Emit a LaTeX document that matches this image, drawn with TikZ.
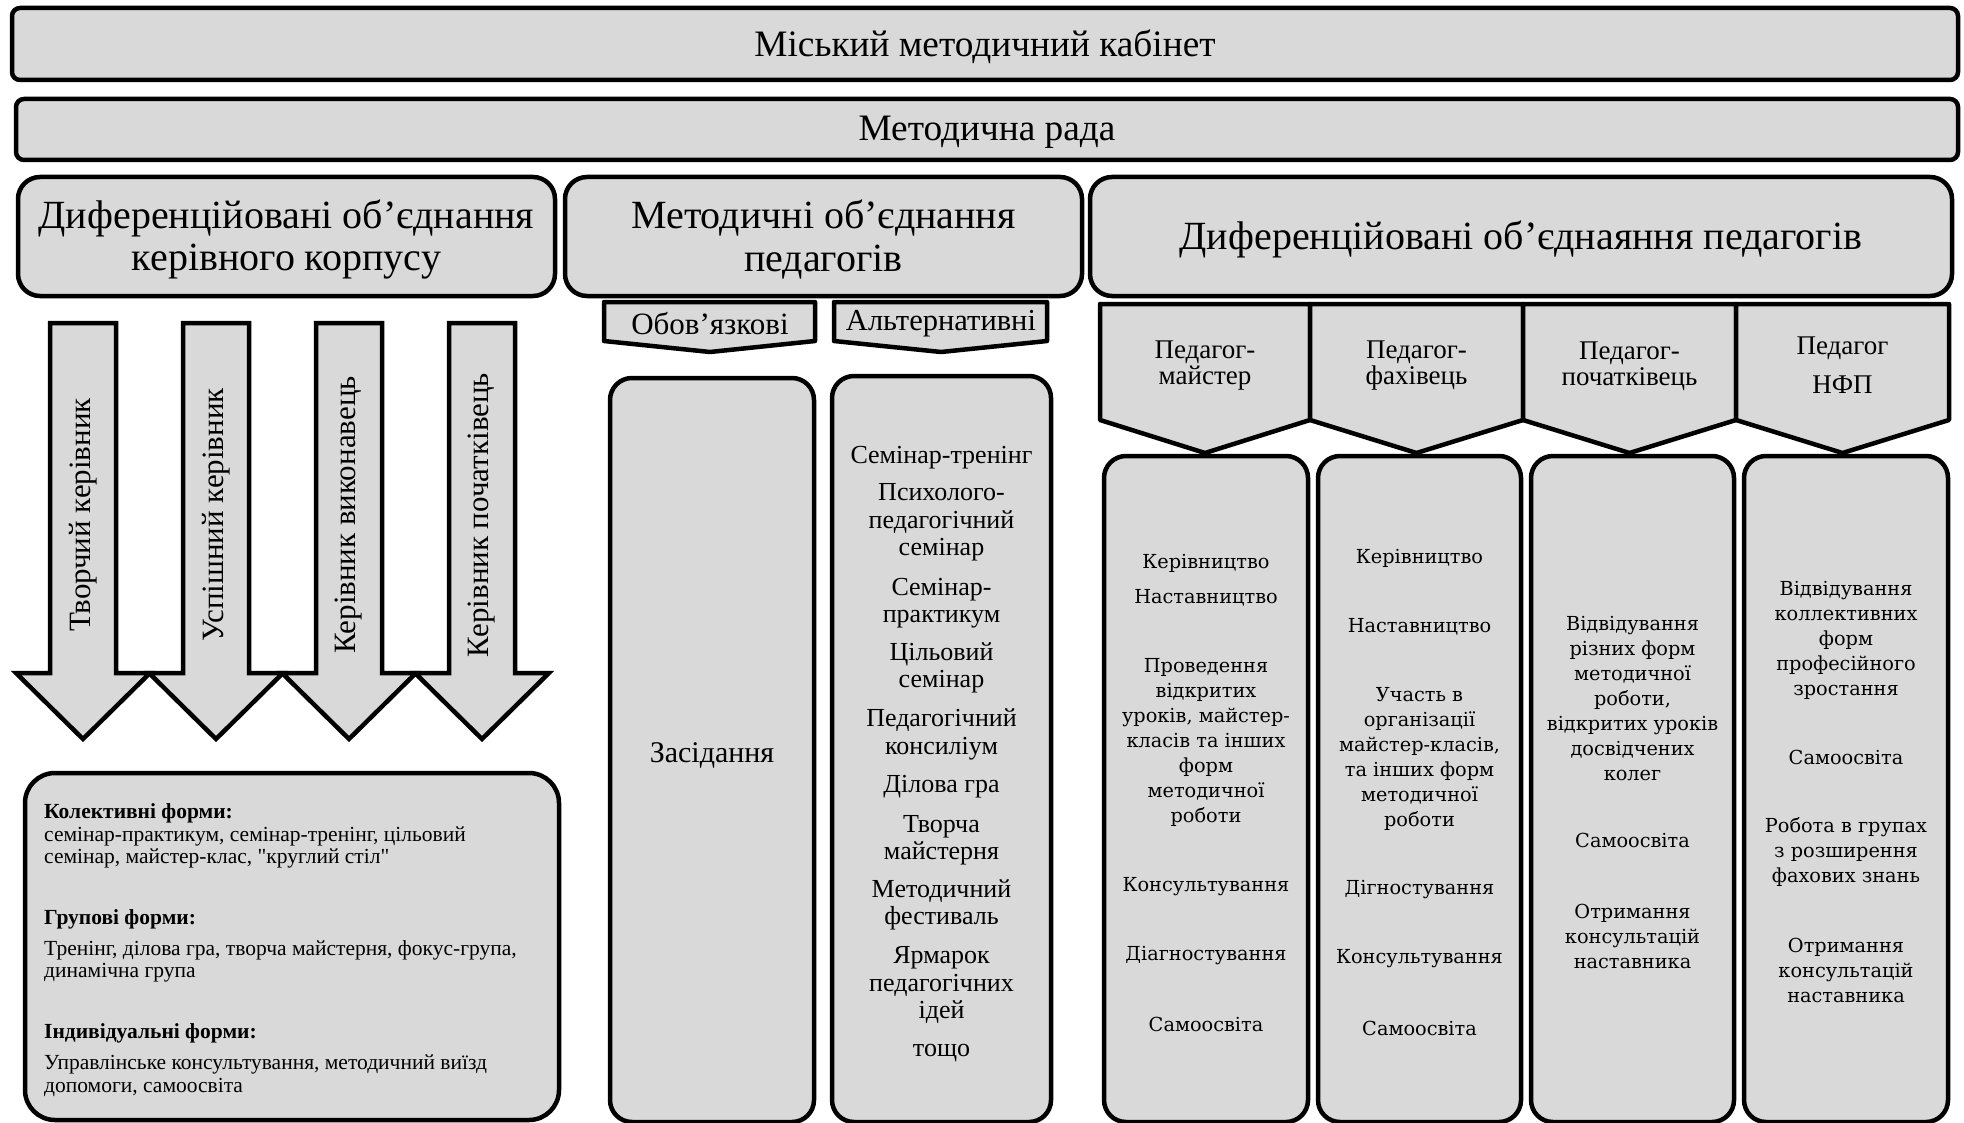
\documentclass[tikz,border=0pt]{standalone}
\usepackage{fontspec}
\setmainfont{Liberation Serif}
\newfontfamily\rawserif{Liberation Serif}
\newfontfamily\wideserif{DejaVu Serif}
\definecolor{boxgray}{HTML}{D9D9D9}
\newcommand{\setfs}[2]{\fontsize{#1}{#2}\selectfont}
\begin{document}
\begin{tikzpicture}[x=1pt,y=-1pt,
  bigbox/.style={draw=black,line width=4.5pt,fill=boxgray,rounded corners=22pt,inner sep=0pt},
  flatbox/.style={draw=black,line width=4.5pt,fill=boxgray,rounded corners=8pt,inner sep=0pt},
  shapest/.style={draw=black,line width=4.5pt,fill=boxgray,line join=miter},
  tagst/.style={draw=black,line width=4.5pt,fill=boxgray,line join=round},
  tx/.style={inner sep=0pt,align=center,yshift=-3pt},
  hdr/.style={tx,font=\setfs{40}{43}},
  alt/.style={tx,font=\setfs{26}{27.5}},
  col/.style={tx,font=\wideserif\setfs{19.3}{25}},
  frm/.style={tx,font=\rawserif\setfs{21.5}{22.5},align=left,anchor=west},
  frmh/.style={tx,font=\rawserif\bfseries\setfs{21.5}{22.5},anchor=west},
  ped/.style={tx,font=\setfs{27}{26}},
  arrtxt/.style={font=\setfs{31}{33},rotate=90,inner sep=0pt}]
\useasboundingbox (0,0) rectangle (1964,1123);

% top rows
\node[flatbox,minimum width=1946pt,minimum height=72pt] (mmk) at (985,44) {};
\node[tx,font=\setfs{37.3}{40}] (mmkt) at (985,44) {Міський методичний кабінет};
\node[flatbox,minimum width=1942pt,minimum height=61pt] (mr) at (987,129.5) {};
\node[tx,font=\setfs{37.3}{40}] (mrt) at (987,129.5) {Методична рада};

% third row
\node[bigbox,minimum width=537pt,minimum height=119pt] (dok) at (286.5,236.5) {};
\node[hdr] (dokt) at (286.5,236.5) {Диференційовані об’єднання\\керівного корпусу};
\node[bigbox,minimum width=517pt,minimum height=119pt] (mop) at (823.5,236.5) {};
\node[hdr] (mopt) at (823.5,236.5) {Методичні об’єднання\\педагогів};
\node[bigbox,minimum width=862pt,minimum height=119pt] (dop) at (1521,236.5) {};
\node[hdr] (dopt) at (1521,236.5) {Диференційовані об’єднаяння педагогів};

% arrows
\foreach \cx/\nm/\txt in {83/ar1/{Творчий керівник},216/ar2/{Успішний керівник},349/ar3/{Керівник виконавець},482/ar4/{Керівник початківець}}{
  \draw[shapest] (\cx-33,323) -- (\cx+33,323) -- (\cx+33,673) -- (\cx+67,673) -- (\cx,739) -- (\cx-67,673) -- (\cx-33,673) -- cycle;
  \node[arrtxt] (\nm) at (\cx,515) {\txt};
}

% forms box
\node[bigbox,rounded corners=30pt,minimum width=534pt,minimum height=347pt] (forms) at (292,946.5) {};
\node[frmh] (kolh) at (44,810) {Колективні форми:};
\node[frm] (kolb) at (44,844.5) {семінар-практикум, семінар-тренінг, цільовий\\семінар, майстер-клас, "круглий стіл"};
\node[frmh] (grh) at (44,916) {Групові форми:};
\node[frm] (grb) at (44,958.5) {Тренінг, ділова гра, творча майстерня, фокус-група,\\динамічна група};
\node[frmh] (indh) at (44,1030) {Індивідуальні форми:};
\node[frm] (indb) at (44,1072.5) {Управлінське консультування, методичний виїзд\\допомоги, самоосвіта};

% tags for methodical unions
\draw[tagst] (604,302) -- (815,302) -- (815,341) -- (710,352) -- (604,341) -- cycle;
\node[tx,font=\setfs{31}{33}] (obov) at (710,321) {Обов’язкові};
\draw[tagst] (834,302) -- (1047,302) -- (1047,341) -- (941,352) -- (834,341) -- cycle;
\node[tx,font=\setfs{30.5}{33}] (altn) at (941,321) {Альтернативні};

% obligatory / alternative boxes
\node[bigbox,minimum width=204pt,minimum height=744pt] (zas) at (712,750) {};
\node[tx,font=\setfs{30}{32}] (zast) at (712,752) {Засідання};
\node[bigbox,minimum width=219pt,minimum height=746pt] (altb) at (941.5,749) {};
\node[alt] (al1) at (941.5,455) {Семінар-тренінг};
\node[alt] (al2) at (941.5,519.5) {Психолого-\\педагогічний\\семінар};
\node[alt] (al3) at (941.5,600) {Семінар-\\практикум};
\node[alt] (al4) at (941.5,665) {Цільовий\\семінар};
\node[alt] (al5) at (941.5,731.5) {Педагогічний\\консиліум};
\node[alt] (al6) at (941.5,784) {Ділова гра};
\node[alt] (al7) at (941.5,837) {Творча\\майстерня};
\node[alt] (al8) at (941.5,902) {Методичний\\фестиваль};
\node[alt] (al9) at (941.5,982) {Ярмарок\\педагогічних\\ідей};
\node[alt] (al10) at (941.5,1050) {тощо};

% pedagogue tags
\draw[tagst] (1100,304) -- (1310,304) -- (1310,420) -- (1205,453) -- (1100,420) -- cycle;
\draw[tagst] (1310,304) -- (1523,304) -- (1523,420) -- (1416.5,453) -- (1310,420) -- cycle;
\draw[tagst] (1523,304) -- (1736,304) -- (1736,420) -- (1629.5,453) -- (1523,420) -- cycle;
\draw[tagst] (1736,304) -- (1949,304) -- (1949,420) -- (1842.5,453) -- (1736,420) -- cycle;
\node[ped] (pm) at (1205,363) {Педагог-\\майстер};
\node[ped] (pf) at (1416.5,363) {Педагог-\\фахівець};
\node[ped] (pp) at (1629.5,363) {Педагог-\\початківець};
\node[ped,font=\setfs{27}{39}] (pn) at (1842.5,362) {Педагог\\НФП};

% columns
\node[bigbox,minimum width=204pt,minimum height=666pt] (cb1) at (1206,789) {};
\node[bigbox,minimum width=203pt,minimum height=666pt] (cb2) at (1419.5,789) {};
\node[bigbox,minimum width=203pt,minimum height=666pt] (cb3) at (1632.5,789) {};
\node[bigbox,minimum width=204pt,minimum height=666pt] (cb4) at (1846,789) {};

\node[col] (c1a) at (1206,560) {Керівництво};
\node[col] (c1b) at (1206,595) {Наставництво};
\node[col] (c1c) at (1206,739) {Проведення\\відкритих\\уроків, майстер-\\класів та інших\\форм\\методичної\\роботи};
\node[col] (c1d) at (1206,883.5) {Консультування};
\node[col] (c1e) at (1206,952.5) {Діагностування};
\node[col] (c1f) at (1206,1021) {Самоосвіта};

\node[col] (c2a) at (1419.5,555) {Керівництво};
\node[col] (c2b) at (1419.5,624) {Наставництво};
\node[col] (c2c) at (1419.5,755.5) {Участь в\\організації\\майстер-класів,\\та інших форм\\методичної\\роботи};
\node[col] (c2d) at (1419.5,887) {Дігностування};
\node[col] (c2e) at (1419.5,956) {Консультування};
\node[col] (c2f) at (1419.5,1025) {Самоосвіта};

\node[col] (c3a) at (1632.5,695.5) {Відвідування\\різних форм\\методичної\\роботи,\\відкритих уроків\\досвідчених\\колег};
\node[col] (c3b) at (1632.5,837.5) {Самоосвіта};
\node[col] (c3c) at (1632.5,933) {Отримання\\консультацій\\наставника};

\node[col] (c4a) at (1846,637) {Відвідування\\коллективних\\форм\\професійного\\зростання};
\node[col] (c4b) at (1846,754) {Самоосвіта};
\node[col] (c4c) at (1846,849.5) {Робота в групах\\з розширення\\фахових знань};
\node[col] (c4d) at (1846,967.5) {Отримання\\консультацій\\наставника};
\end{tikzpicture}
\end{document}
